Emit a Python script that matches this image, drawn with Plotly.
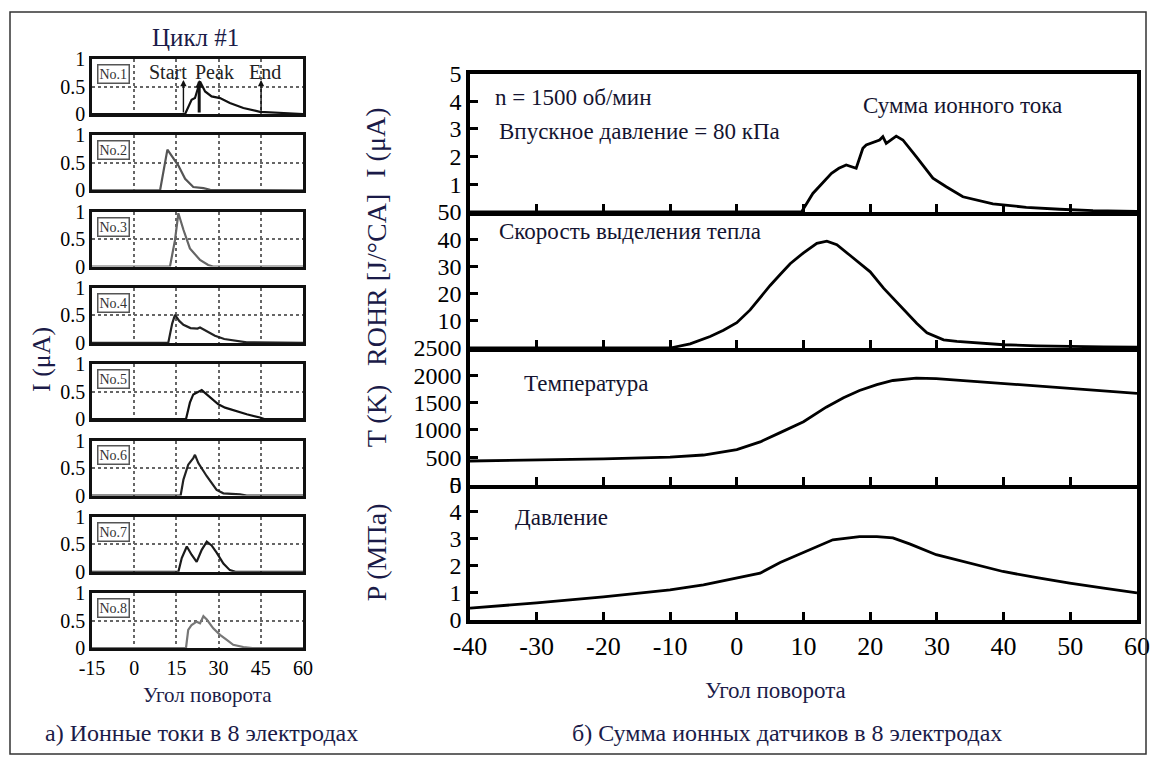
import plotly.graph_objects as go

W, H = 1155, 764
SERIF = "Liberation Serif"
TITLE_COLOR = "#1b1b48"


def fx(px):
    return px / W


def fy(py):
    return 1 - py / H


# ---------------- (a) ion currents of the 8 electrodes, cycle #1 ----------------
left_xticks = [-15, 0, 15, 30, 45, 60]
left_yticks = [0, 0.5, 1]
left_ytext = ["0", "0.5", "1"]
electrode_names = ["No.1", "No.2", "No.3", "No.4", "No.5", "No.6", "No.7", "No.8"]

no1_x = [-15, 18.1, 20.4, 21.6, 23.4, 25.2, 27.5, 30.5, 34.0, 38.8, 44.7, 56.6, 60]
no1_i = [0, 0, 0.26, 0.29, 0.59, 0.41, 0.32, 0.29, 0.20, 0.11, 0.04, 0.01, 0]
no2_x = [-15, 9.2, 11.8, 13.9, 15.7, 18.1, 21.0, 24.6, 27.0, 60]
no2_i = [0, 0, 0.74, 0.58, 0.45, 0.21, 0.06, 0.04, 0.01, 0]
no3_x = [-15, 12.7, 14.5, 15.7, 17.5, 19.8, 23.4, 26.3, 28.0, 60]
no3_i = [0, 0, 0.48, 0.97, 0.67, 0.33, 0.12, 0.03, 0, 0]
no4_x = [-15, 12.1, 13.5, 14.5, 16.0, 17.5, 20.0, 22.5, 23.4, 25.5, 28.7, 32.0, 35.8, 40.0, 60]
no4_i = [0, 0, 0.35, 0.51, 0.40, 0.33, 0.27, 0.26, 0.28, 0.22, 0.13, 0.07, 0.04, 0.01, 0]
no5_x = [-15, 18.4, 19.8, 21.0, 24.0, 27.0, 29.9, 32.3, 35.2, 40.0, 44.7, 46.5, 60]
no5_i = [0, 0, 0.30, 0.45, 0.53, 0.40, 0.27, 0.21, 0.16, 0.09, 0.03, 0, 0]
no6_x = [-15, 16.5, 17.5, 19.2, 21.0, 21.6, 22.8, 25.8, 29.3, 31.7, 37.6, 40.0, 60]
no6_i = [0, 0, 0.29, 0.56, 0.68, 0.74, 0.59, 0.35, 0.10, 0.04, 0.02, 0, 0]
no7_x = [-15, 15.7, 16.9, 18.7, 20.4, 22.2, 24.0, 25.8, 27.5, 29.3, 31.7, 34.0, 36.0, 60]
no7_i = [0, 0, 0.25, 0.46, 0.31, 0.18, 0.40, 0.55, 0.48, 0.35, 0.15, 0.03, 0, 0]
no8_x = [-15, 18.4, 19.2, 20.4, 22.2, 23.4, 24.6, 25.8, 28.1, 30.5, 32.9, 35.2, 38.8, 42.0, 60]
no8_i = [0, 0, 0.33, 0.42, 0.48, 0.45, 0.58, 0.52, 0.36, 0.24, 0.15, 0.06, 0.02, 0, 0]

electrode_x = [no1_x, no2_x, no3_x, no4_x, no5_x, no6_x, no7_x, no8_x]
electrode_i = [no1_i, no2_i, no3_i, no4_i, no5_i, no6_i, no7_i, no8_i]
electrode_color = ["#111111", "#555555", "#666666", "#222222",
                   "#111111", "#222222", "#1a1a1a", "#777777"]

# start / peak / end of the combustion signal on electrode No.1 (°CA)
no1_events = ["Start", "Peak", "End"]
no1_event_angle = [17.5, 23.1, 45.1]
no1_label_angle = [12.0, 28.7, 46.5]

# ---------------- (b) sum of ion signals and combustion parameters ----------------
right_xticks = [-40, -30, -20, -10, 0, 10, 20, 30, 40, 50, 60]

ion_x = [-40, 9.7, 11.4, 12.5, 14.2, 15.3, 16.4, 17.9, 18.9, 19.4, 20.4, 21.4, 21.9, 22.4,
         23.9, 24.9, 26.9, 29.4, 31.4, 33.9, 38.4, 43.4, 48.4, 53.4, 60]
ion_i = [0, 0, 0.67, 0.95, 1.40, 1.58, 1.70, 1.58, 2.30, 2.42, 2.50, 2.60, 2.72, 2.48,
         2.74, 2.60, 2.00, 1.22, 0.91, 0.55, 0.29, 0.17, 0.10, 0.05, 0.02]

rohr_x = [-40, -10, -7, -4, -2, 0, 2, 3.5, 5, 6.5, 8, 10, 12, 13.5, 15, 17, 20, 22,
          25, 27, 28.5, 31, 33, 35, 40, 45, 50, 55, 60]
rohr_v = [0, 0, 1.5, 4.2, 6.5, 9.3, 14.0, 18.7, 23.0, 27.0, 31.0, 35.0, 38.5, 39.3,
          38.0, 34.0, 28.0, 22.0, 14.0, 9.0, 5.6, 3.0, 2.4, 2.0, 1.2, 0.8, 0.5, 0.4, 0.3]

temp_x = [-40, -30, -20, -10, -5, 0, 3.5, 6.5, 10, 13.4, 16, 18.4, 21, 23.4, 26.9,
          29.9, 35, 39.9, 45, 49.9, 55, 60]
temp_k = [430, 445, 470, 500, 540, 640, 780, 950, 1150, 1416, 1590, 1722, 1830, 1905,
          1947, 1940, 1895, 1845, 1800, 1755, 1715, 1670]

pres_x = [-40, -30, -20, -10, -5, 0, 3.5, 6.5, 9.9, 14.4, 18.4, 21, 23.4, 26, 29.9,
          35, 39.9, 45, 49.9, 55, 60]
pres_mpa = [0.44, 0.63, 0.85, 1.11, 1.30, 1.55, 1.73, 2.12, 2.47, 2.96, 3.08, 3.08,
            3.03, 2.80, 2.41, 2.08, 1.79, 1.56, 1.36, 1.18, 1.00]

right_series_x = [ion_x, rohr_x, temp_x, pres_x]
right_series_y = [ion_i, rohr_v, temp_k, pres_mpa]
right_ranges = [[0, 5], [0, 50], [0, 2500], [0, 5]]
right_tickvals = [[1, 2, 3, 4, 5], [10, 20, 30, 40, 50],
                  [0, 500, 1000, 1500, 2000, 2500], [0, 1, 2, 3, 4, 5]]
right_titles = ["I (μA)", "ROHR [J/°CA]", "T (K)", "P (МПа)"]
right_notes = [
    [("n = 1500 об/мин", -36.5, 4.15, "left"),
     ("Впускное давление = 80 кПа", -36.0, 2.9, "left"),
     ("Сумма ионного тока", 33.8, 3.86, "center")],
    [("Скорость выделения тепла", -36.0, 43.0, "left")],
    [("Температура", -32.2, 1850, "left")],
    [("Давление", -33.5, 3.78, "left")],
]

fig = go.Figure()
layout = dict(
    width=W, height=H,
    margin=dict(l=0, r=0, t=0, b=0, pad=0, autoexpand=False),
    paper_bgcolor="white", plot_bgcolor="white", showlegend=False,
    font=dict(family=SERIF, color="black"),
)
annotations = []
shapes = []


def axis_key(n, kind):
    return kind + ("axis" if n == 1 else "axis%d" % n)


def ref(n, kind):
    return kind if n == 1 else "%s%d" % (kind, n)


def paper_text(txt, px, py, size, color=TITLE_COLOR, angle=0):
    return dict(
        text=txt, xref="paper", yref="paper", x=fx(px), y=fy(py),
        xanchor="center", yanchor="middle", textangle=angle, showarrow=False,
        font=dict(size=size, family=SERIF, color=color),
    )


# left column of small panels
L_X0, L_X1 = 92, 303
L_TOP0, L_STEP, L_H = 59, 76.3, 55
for k in range(8):
    n = k + 1
    top = L_TOP0 + k * L_STEP
    bot = top + L_H
    last = k == 7
    layout[axis_key(n, "x")] = dict(
        domain=[fx(L_X0), fx(L_X1)], range=[-15, 60], anchor=ref(n, "y"),
        automargin=False,
        tickvals=left_xticks, ticktext=[str(v) for v in left_xticks],
        showticklabels=last, ticks="", showgrid=True, gridcolor="#666666",
        griddash="dot", gridwidth=1.5, zeroline=False, showline=True, mirror=True,
        linecolor="#111111", linewidth=2.5, tickfont=dict(size=20, family=SERIF),
    )
    layout[axis_key(n, "y")] = dict(
        domain=[fy(bot), fy(top)], range=[0, 1], anchor=ref(n, "x"),
        automargin=False,
        tickvals=left_yticks, ticktext=left_ytext, ticks="", showgrid=True,
        gridcolor="#666666", griddash="dot", gridwidth=1.5, zeroline=False,
        showline=True, mirror=True, linecolor="#111111", linewidth=2.5,
        tickfont=dict(size=20, family=SERIF),
    )
    fig.add_trace(go.Scatter(
        x=electrode_x[k], y=electrode_i[k], mode="lines",
        line=dict(color=electrode_color[k], width=2.2),
        xaxis=ref(n, "x"), yaxis=ref(n, "y"), hoverinfo="skip",
    ))
    annotations.append(dict(
        text=electrode_names[k], xref="paper", yref="paper",
        x=fx(L_X0 + 5), y=fy(top + 5), xanchor="left", yanchor="top",
        showarrow=False, font=dict(size=14, family=SERIF, color="#333333"),
        bordercolor="#555555", borderwidth=1.5, borderpad=1, bgcolor="white",
    ))

# event markers on electrode No.1
for name, ang, lab in zip(no1_events, no1_event_angle, no1_label_angle):
    is_peak = name == "Peak"
    annotations.append(dict(
        x=ang, y=0.62, ax=ang, ay=0, xref="x", yref="y", axref="x", ayref="y",
        showarrow=True, arrowhead=2, arrowsize=0.5 if is_peak else 0.9,
        arrowwidth=3 if is_peak else 1.4, arrowcolor="#111111", text="",
    ))
    annotations.append(dict(
        text=name, x=lab, y=0.77, xref="x", yref="y", showarrow=False,
        xanchor="center", yanchor="middle",
        font=dict(size=20, family=SERIF, color="#222222"),
    ))

# right column: four stacked panels sharing the crank-angle axis
R_X0, R_X1 = 470, 1137
R_EDGES = [73.5, 212, 348, 484.5, 620]
for k in range(4):
    n = 9 + k
    top, bot = R_EDGES[k], R_EDGES[k + 1]
    last = k == 3
    layout[axis_key(n, "x")] = dict(
        domain=[fx(R_X0), fx(R_X1)], range=[-40, 60], anchor=ref(n, "y"),
        automargin=False,
        tickvals=right_xticks, ticktext=[str(v) for v in right_xticks],
        showticklabels=last, ticks="inside", ticklen=8, tickwidth=3,
        tickcolor="black", showgrid=False, zeroline=False, showline=True,
        # only the top panel draws its own upper edge; the others share
        # the lower edge of the panel above
        mirror=(k == 0), linecolor="black", linewidth=3.5,
        tickfont=dict(size=26, family=SERIF),
    )
    layout[axis_key(n, "y")] = dict(
        domain=[fy(bot), fy(top)], range=right_ranges[k], anchor=ref(n, "x"),
        automargin=False,
        tickvals=right_tickvals[k], ticktext=[str(v) for v in right_tickvals[k]],
        ticks="inside", ticklen=8, tickwidth=3, tickcolor="black",
        showgrid=False, zeroline=False, showline=True, mirror=True,
        linecolor="black", linewidth=3.5, tickfont=dict(size=24, family=SERIF),
    )
    fig.add_trace(go.Scatter(
        x=right_series_x[k], y=right_series_y[k], mode="lines",
        line=dict(color="black", width=2.8),
        xaxis=ref(n, "x"), yaxis=ref(n, "y"), hoverinfo="skip",
    ))
    annotations.append(paper_text(right_titles[k], 376, (top + bot) / 2, 28, angle=-90))
    for txt, ax_, ay_, anchor in right_notes[k]:
        annotations.append(dict(
            text=txt, x=ax_, y=ay_, xref=ref(n, "x"), yref=ref(n, "y"),
            xanchor=anchor, yanchor="middle", showarrow=False,
            font=dict(size=23, family=SERIF, color="#141430"),
        ))

# titles and captions
for txt, px, py, size in [
    ("Цикл #1", 195, 38, 25),
    ("Угол поворота", 207, 695, 21),
    ("Угол поворота", 775, 690, 23),
    ("а) Ионные токи в 8 электродах", 201, 733, 24),
    ("б) Сумма ионных датчиков в 8 электродах", 787, 733, 24),
]:
    annotations.append(paper_text(txt, px, py, size))

annotations.append(paper_text("I (μA)", 42, 360, 26, angle=-90))

shapes.append(dict(
    type="rect", xref="paper", yref="paper", x0=fx(10), x1=fx(1146),
    y0=fy(754), y1=fy(12), line=dict(color="#333333", width=1.5),
))

layout["annotations"] = annotations
layout["shapes"] = shapes
fig.update_layout(**layout)
fig.write_html("out.html")
